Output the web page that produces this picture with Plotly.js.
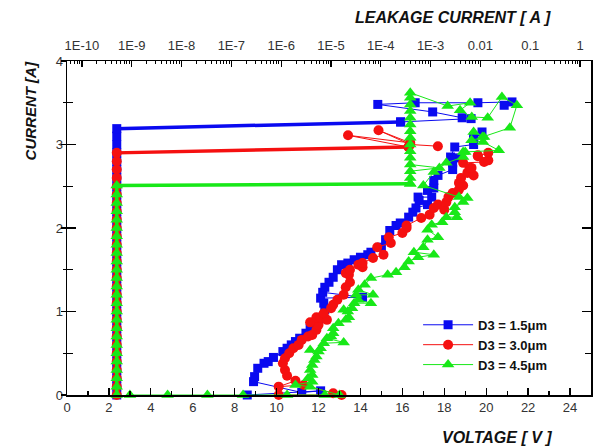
<!DOCTYPE html>
<html>
<head>
<meta charset="utf-8">
<script src="https://cdn.plot.ly/plotly-3.0.1.min.js"></script>
<style>html,body{margin:0;padding:0;background:#fff;}#chart{width:600px;height:448px;}</style>
</head>
<body>
<div id="chart"></div>
<script>
// ---- I-V data (bottom axis: voltage [V], left axis: current [A]) ----
const V_BLUE = [8.6,12.1,11.2,8.9,8.95,9.1,9.4,9.6,9.85,10.3,10.5,10.7,10.9,11.1,11.4,11.6,11.7,12.0,12.2,12.3,12.25,12.1,14.1,12.2,12.3,12.5,12.7,12.9,13.1,13.4,13.7,14.0,14.35,14.5,15.0,15.2,15.4,15.7,15.9,16.3,16.5,16.65,17.2,16.8,16.75,17.4,17.2,17.5,17.5,17.7,18.4,18.7,18.4,18.3,18.5,19.4,19.4,19.4,19.8];
const I_BLUE = [0,0.05,0.03,0.16,0.22,0.32,0.38,0.40,0.45,0.52,0.56,0.6,0.64,0.68,0.74,0.8,0.84,0.89,0.93,1.02,1.1,1.16,1.17,1.23,1.29,1.35,1.41,1.5,1.56,1.58,1.62,1.65,1.68,1.71,1.77,1.86,1.97,2.03,2.06,2.13,2.19,2.24,2.28,2.33,2.37,2.37,2.45,2.48,2.57,2.63,2.7,2.84,2.78,2.85,2.97,3.0,3.05,3.09,3.15];

const V_RED = [10.1,13.1,12.7,11.3,10.1,10.9,10.5,10.4,10.3,10.4,10.6,10.8,11.05,11.2,11.5,11.7,11.9,12.0,11.6,11.9,12.1,12.4,12.25,12.6,12.7,12.9,13.2,13.3,13.5,13.45,13.3,13.5,13.9,14.1,14.1,14.6,15.1,14.8,15.45,15.35,16.0,16.2,16.2,16.9,17.3,17.5,17.7,18.0,18.1,18.2,18.4,18.7,18.9,18.7,18.8,19.1,19.2,19.4,19.3,18.9,19.9,19.6,20.1,20.1,19.6];
const I_RED = [0,0,0.02,0.12,0.1,0.17,0.23,0.3,0.38,0.44,0.5,0.56,0.6,0.66,0.7,0.72,0.78,0.84,0.87,0.93,0.93,0.9,0.98,1.04,1.08,1.14,1.2,1.29,1.35,1.44,1.46,1.5,1.56,1.53,1.58,1.64,1.68,1.77,1.82,1.89,1.94,2.0,2.03,2.12,2.16,2.24,2.28,2.22,2.31,2.37,2.42,2.46,2.51,2.54,2.6,2.66,2.72,2.63,2.72,2.78,2.79,2.87,2.81,2.9,2.86];

const V_GREEN = [3.0,4.8,6.7,8.4,10.5,12.3,13.0,11.6,10.9,11.7,11.5,11.7,11.6,11.7,11.8,11.9,11.6,12.0,12.1,12.25,13.2,12.4,12.6,12.7,12.7,12.95,13.3,13.45,13.4,13.2,13.6,13.7,14.5,13.9,13.8,14.6,13.9,14.2,14.5,15.3,15.7,16.1,16.3,16.75,17.5,16.55,17.0,17.2,17.7,17.2,17.4,17.9,18.1,18.6,18.5,18.5,18.9,19.1,18.7,17.0,17.5,18.1,18.9,19.0,18.9,20.6,19.85,19.3,19.9,19.4];
const I_GREEN = [0,0,0,0,0,0,0,0.1,0.12,0.16,0.2,0.24,0.3,0.36,0.42,0.46,0.54,0.52,0.56,0.62,0.63,0.68,0.7,0.74,0.8,0.86,0.9,0.93,1.0,1.02,1.04,1.1,1.1,1.14,1.2,1.2,1.26,1.32,1.4,1.44,1.47,1.53,1.6,1.65,1.68,1.71,1.77,1.86,1.89,1.98,2.04,2.07,2.13,2.13,2.19,2.25,2.31,2.36,2.37,2.51,2.67,2.78,2.85,2.91,2.91,2.93,3.03,3.05,3.09,3.15];

// ---- Leakage data (top axis: leakage current [A], log) ----
// floor level up to the jump
const LEAK_BLUE_FLOOR = [5e-10,5e-10,5e-10,5e-10,5e-10,5e-10,5e-10,5e-10,5e-10,5e-10,5e-10,5e-10,5e-10,5e-10,5e-10,5e-10,5e-10,5e-10,5e-10,5e-10,5e-10,5e-10,5e-10,5e-10,5e-10,5e-10,5e-10,5e-10,5e-10,5e-10,5e-10,5e-10,5e-10,2.5e-4];
const CUR_BLUE_FLOOR  = [0,0.1,0.2,0.3,0.4,0.5,0.6,0.7,0.8,0.9,1.0,1.1,1.2,1.3,1.4,1.5,1.6,1.7,1.8,1.9,2.0,2.1,2.2,2.3,2.4,2.5,2.6,2.7,2.8,2.9,3.0,3.1,3.19,3.27];
const LEAK_RED_FLOOR = [5e-10,5e-10,5e-10,5e-10,5e-10,5e-10,5e-10,5e-10,5e-10,5e-10,5e-10,5e-10,5e-10,5e-10,5e-10,5e-10,5e-10,5e-10,5e-10,5e-10,5e-10,5e-10,5e-10,5e-10,5e-10,5e-10,5e-10,5e-10,5e-10,5e-10,3.6e-4];
const CUR_RED_FLOOR  = [0,0.1,0.2,0.3,0.4,0.5,0.6,0.7,0.8,0.9,1.0,1.1,1.2,1.3,1.4,1.5,1.6,1.7,1.8,1.9,2.0,2.1,2.2,2.3,2.4,2.5,2.6,2.7,2.8,2.9,2.97];
const LEAK_GREEN_FLOOR = [5e-10,5e-10,5e-10,5e-10,5e-10,5e-10,5e-10,5e-10,5e-10,5e-10,5e-10,5e-10,5e-10,5e-10,5e-10,5e-10,5e-10,5e-10,5e-10,5e-10,5e-10,5e-10,5e-10,5e-10,5e-10,5e-10,3.9e-4];
const CUR_GREEN_FLOOR  = [0,0.1,0.2,0.3,0.4,0.5,0.6,0.7,0.8,0.9,1.0,1.1,1.2,1.3,1.4,1.5,1.6,1.7,1.8,1.9,2.0,2.1,2.2,2.3,2.4,2.51,2.53];
// after the jump
const LEAK_BLUE_TAIL = [2.5e-4,6.5e-3,4.3e-3,1.1e-3,8.7e-5,4.9e-4,8.9e-3,0.043,0.03];
const CUR_BLUE_TAIL  = [3.27,3.31,3.32,3.39,3.48,3.5,3.5,3.51,3.47];
const LEAK_RED_TAIL = [3.6e-4,2.2e-5,3.9e-4,9e-5,3.9e-4,1.4e-3];
const CUR_RED_TAIL  = [2.97,3.11,3.02,3.17,3.0,2.98];
const LEAK_GREEN_TAIL = [3.9e-4,3.9e-4,3.9e-4,1.5e-3,3.9e-4,3.9e-4,3.9e-4,3.9e-4,3.9e-4,3.9e-4,3.9e-4,3.9e-4,3.9e-4,3.9e-4,3.9e-4,3.9e-4,2.2e-3,6.2e-3,3.9e-3,6.7e-3,0.014,0.027,0.054,0.039,0.011];
const CUR_GREEN_TAIL  = [2.53,2.6,2.68,2.72,2.76,2.84,2.92,3.0,3.08,3.16,3.24,3.32,3.4,3.48,3.56,3.62,3.46,3.5,3.41,3.33,3.32,3.57,3.47,3.2,3.09];

const LEAK_TICKS = [1e-10,1e-9,1e-8,1e-7,1e-6,1e-5,1e-4,1e-3,0.01,0.1,1];
const LEAK_TICKTEXT = ['1E-10','1E-9','1E-8','1E-7','1E-6','1E-5','1E-4','1E-3','0.01','0.1','1'];
const NAMES = ['D3 = 1.5\u03bcm','D3 = 3.0\u03bcm','D3 = 4.5\u03bcm'];

const BLUE = '#0a0af0', RED = '#f51010', GREEN = '#18e818';
const FONT = 'Liberation Sans, Arial, sans-serif';

const traces = [];
// floor + jump (thick)
[[LEAK_BLUE_FLOOR,CUR_BLUE_FLOOR,BLUE,'square',9],
 [LEAK_RED_FLOOR,CUR_RED_FLOOR,RED,'circle',10],
 [LEAK_GREEN_FLOOR,CUR_GREEN_FLOOR,GREEN,'triangle-up',11]].forEach(([x,y,c,s,sz])=>{
  traces.push({x:x,y:y,xaxis:'x2',yaxis:'y',mode:'lines+markers',showlegend:false,cliponaxis:false,
    line:{color:c,width:3.5},marker:{color:c,symbol:s,size:sz}});
});
// I-V curves
[[V_BLUE,I_BLUE,BLUE,'square',9,NAMES[0]],
 [V_RED,I_RED,RED,'circle',10,NAMES[1]],
 [V_GREEN,I_GREEN,GREEN,'triangle-up',11,NAMES[2]]].forEach(([x,y,c,s,sz,n])=>{
  traces.push({x:x,y:y,xaxis:'x',yaxis:'y',mode:'lines+markers',name:n,cliponaxis:false,
    line:{color:c,width:1},marker:{color:c,symbol:s,size:sz}});
});
// leakage tails (thin)
[[LEAK_BLUE_TAIL,CUR_BLUE_TAIL,BLUE,'square',9],
 [LEAK_RED_TAIL,CUR_RED_TAIL,RED,'circle',10],
 [LEAK_GREEN_TAIL,CUR_GREEN_TAIL,GREEN,'triangle-up',11]].forEach(([x,y,c,s,sz])=>{
  traces.push({x:x,y:y,xaxis:'x2',yaxis:'y',mode:'lines+markers',showlegend:false,cliponaxis:false,
    line:{color:c,width:1},marker:{color:c,symbol:s,size:sz}});
});

const tickFont = {family:FONT,size:13,color:'#333'};
const layout = {
  width:600,height:448,
  margin:{l:67,r:9,t:61,b:53},
  paper_bgcolor:'#fff',plot_bgcolor:'#fff',
  showlegend:true,
  legend:{x:0.67,y:0.255,xanchor:'left',yanchor:'top',bgcolor:'rgba(0,0,0,0)',
    font:{family:FONT,size:13,color:'#111',weight:'bold'},itemwidth:50,tracegroupgap:0},
  xaxis:{range:[0,25],tick0:0,dtick:2,ticks:'inside',ticklen:7,tickcolor:'#000',tickwidth:1.3,
    minor:{dtick:1,ticks:'inside',ticklen:4,tickcolor:'#000',tickwidth:1.3},
    showline:true,linecolor:'#000',linewidth:1.5,mirror:false,showgrid:false,zeroline:false,
    tickfont:tickFont},
  xaxis2:{type:'log',overlaying:'x',side:'top',anchor:'y',range:[-10.3,0.22],
    tickmode:'array',tickvals:LEAK_TICKS,ticktext:LEAK_TICKTEXT,
    ticks:'inside',ticklen:6,tickcolor:'#000',tickwidth:1.2,
    showline:true,linecolor:'#000',linewidth:1.5,showgrid:false,zeroline:false,
    tickfont:tickFont,ticklabelstandoff:4},
  xaxis3:{type:'log',overlaying:'x',side:'top',anchor:'y',range:[-10.3,0.22],
    dtick:'D1',ticks:'inside',ticklen:3,tickcolor:'#000',tickwidth:1,
    showticklabels:false,showline:false,showgrid:false,zeroline:false},
  yaxis:{range:[0,4],dtick:1,ticks:'inside',ticklen:9,tickcolor:'#000',tickwidth:1.3,
    minor:{dtick:0.5,ticks:'inside',ticklen:6,tickcolor:'#000',tickwidth:1.3},
    showline:true,linecolor:'#000',linewidth:1.5,mirror:'ticks',showgrid:false,zeroline:false,
    tickfont:tickFont},
  yaxis2:{range:[0,4],overlaying:'y',side:'left',anchor:'x',dtick:1,ticks:'outside',ticklen:5,tickcolor:'#000',tickwidth:1.3,
    minor:{dtick:0.5,ticks:'outside',ticklen:3,tickcolor:'#000',tickwidth:1.3},
    showticklabels:false,showline:false,showgrid:false,zeroline:false},
  annotations:[
    {text:'<b><i>CURRENT [A]</i></b>',xref:'paper',yref:'paper',x:-0.07,y:0.85,textangle:-90,
     showarrow:false,xanchor:'center',yanchor:'middle',font:{family:FONT,size:15,color:'#111'}},
    {text:'<b><i>LEAKAGE CURRENT [ A ]</i></b>',xref:'paper',yref:'paper',x:0.737,y:1.129,
     showarrow:false,xanchor:'center',yanchor:'middle',font:{family:FONT,size:16,color:'#111'}},
    {text:'<b><i>VOLTAGE [ V ]</i></b>',xref:'paper',yref:'paper',x:0.821,y:-0.126,
     showarrow:false,xanchor:'center',yanchor:'middle',font:{family:FONT,size:16,color:'#111'}}
  ]
};
// empty traces so the extra tick-only axes are drawn
traces.push({x:[],y:[],xaxis:'x',yaxis:'y2',mode:'markers',showlegend:false,hoverinfo:'skip'});
traces.push({x:[],y:[],xaxis:'x3',yaxis:'y',mode:'markers',showlegend:false,hoverinfo:'skip'});

Plotly.newPlot('chart',traces,layout,{displayModeBar:false,staticPlot:true});
</script>
</body>
</html>
